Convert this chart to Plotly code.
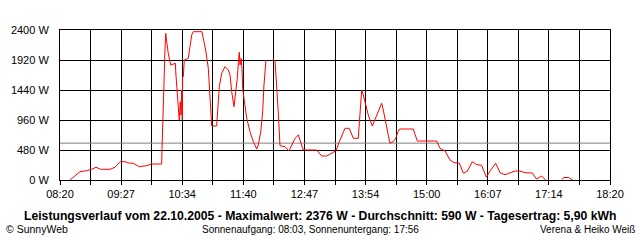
import plotly.graph_objects as go

# time in minutes of day, power in W (None = gap)
times = [510.9, 518.2, 521.8, 529.1, 534.6, 539.3, 544.4, 554.5, 560.0, 565.5, 570.9, 574.5, 580.0, 586.5,
         594.6, 600.0, 610.9, 611.3, 612.0, 613.5, 614.5, 615.3, 616.4, 618.1, 620.8, 623.6, 625.8, 626.5,
         628.0, 629.5, 630.1, 631.2, 632.0, 632.7, 633.4, 633.8, 634.5, 635.6, 640.0, 641.8, 643.7, 645.4,
         654.9, 656.3, 658.9, 661.8, 662.9, 664.4, 665.5, 670.9, 672.0, 673.8, 676.4, 680.0, 683.6, 685.5,
         687.3, 689.8, 691.7, 693.4, 694.9, 695.6, 696.4, 697.5, 698.5, 699.3, 700.7, 703.7, 707.3, 710.9,
         714.6, 716.3, 719.0, 721.1, 722.5, 724.7, 729.0, 734.5, 736.4, 738.1, 740.0, 745.5, 749.8, 752.8,
         756.4, 760.0, 761.8, 765.4, 780.0, 785.5, 791.0, 796.4, 801.1, 804.7, 809.1, 810.9, 815.6, 820.0,
         825.4, 827.3, 829.1, 830.9, 832.7, 836.3, 840.7, 844.7, 848.3, 850.9, 852.7, 855.6, 858.1, 860.0,
         863.6, 866.2, 869.1, 870.9, 885.4, 889.8, 910.9, 914.5, 920.0, 925.5, 929.8, 935.6, 940.0, 944.3,
         949.8, 954.6, 960.0, 965.1, 969.4, 975.3, 980.0, 985.5, 990.9, 996.4, 1001.8, 1007.3, 1015.2,
         1019.8, 1025.5, 1029.6, 1038.0, 1047.1, 1049.8, 1054.7, 1059.3]
power = [0, 96, 133, 149, 171, 203, 171, 171, 203, 293, 293, 272, 267, 213,
         229, 256, 256, 507, 1040, 1573, 2080, 2347, 2213, 2027, 1840, 1856, 1867, 1680,
         1413, 1067, 960, 1253, 1040, 1440, 960, 1653, 1653, 1920, 1947, 2133, 2320, 2373,
         2373, 2267, 2080, 1787, 1467, 1040, 864, 864, 1147, 1493, 1707, 1813, 1760, 1680,
         1413, 1173, 1413, 1627, 1947, 2043, 1840, 1947, 1787, 1467, 1307, 987, 773, 613,
         496, 560, 773, 1093, 1520, 1920, None, 1920, 1520, 1093, 549, 533, 464, 560,
         667, 720, 640, 480, 480, 384, 384, 427, 469, 613, 773, 827, 827, 667,
         667, 1147, 1440, 1360, 1253, 1040, 864, 1013, 1157, 1227, 1120, 933, 720, 587,
         613, 667, 784, 816, 816, 624, 624, 507, 464, 320, 277, 270, 110, 140,
         293, 245, 235, 45, 150, 267, 117, 85, 117, 144, 144, 117, 112,
         15, 64, 0, None, 5, 40, 40, 0]

average_w = 590
x_tick_labels = ["08:20", "09:27", "10:34", "11:40", "12:47", "13:54", "15:00", "16:07", "17:14", "18:20"]
y_ticks = [0, 480, 960, 1440, 1920, 2400]

x_start, x_end = 500, 1100
step = (x_end - x_start) / 18
tickvals = [x_start + k * step for k in range(19)]
ticktext = [x_tick_labels[k // 2] if k % 2 == 0 else "" for k in range(19)]

fig = go.Figure()
fig.add_trace(go.Scatter(x=[x_start, x_end], y=[average_w, average_w], mode="lines",
                         line=dict(color="#808080", width=1), hoverinfo="skip"))
fig.add_trace(go.Scatter(x=times, y=power, mode="lines", connectgaps=False,
                         line=dict(color="#ff0000", width=1)))

fnt = "Liberation Sans, Arial, sans-serif"
fig.update_layout(
    width=640, height=240, showlegend=False,
    margin=dict(l=60, r=30, t=30, b=60),
    paper_bgcolor="white", plot_bgcolor="white",
    font=dict(family=fnt, size=11, color="black"),
    xaxis=dict(range=[x_start, x_end], tickvals=tickvals, ticktext=ticktext,
               showgrid=True, gridcolor="black", gridwidth=1,
               showline=True, linecolor="black", linewidth=1, mirror=True,
               ticks="outside", ticklen=4, tickcolor="black", zeroline=False,
               tickfont=dict(family=fnt, size=11)),
    yaxis=dict(range=[0, 2400], tickvals=y_ticks, ticktext=[f"{v} W" for v in y_ticks],
               showgrid=True, gridcolor="black", gridwidth=1,
               showline=True, linecolor="black", linewidth=1, mirror=True,
               ticks="", zeroline=False, ticklabelstandoff=8,
               tickfont=dict(family=fnt, size=11)),
    annotations=[
        dict(text="<b>Leistungsverlauf vom 22.10.2005 - Maximalwert: 2376 W - Durchschnitt: 590 W - Tagesertrag: 5,90 kWh</b>",
             xref="paper", yref="paper", x=(320 - 60) / 550, y=-0.24, xanchor="center", yanchor="middle",
             showarrow=False, font=dict(family=fnt, size=12.2)),
        dict(text="© SunnyWeb", xref="paper", yref="paper", x=-56 / 550, y=-0.327,
             xanchor="left", yanchor="middle", showarrow=False, font=dict(family=fnt, size=10.5)),
        dict(text="Sonnenaufgang: 08:03, Sonnenuntergang: 17:56", xref="paper", yref="paper",
             x=(310 - 60) / 550, y=-0.327, xanchor="center", yanchor="middle", showarrow=False,
             font=dict(family=fnt, size=10)),
        dict(text="Verena &amp; Heiko Weiß", xref="paper", yref="paper", x=(637 - 60) / 550, y=-0.327,
             xanchor="right", yanchor="middle", showarrow=False, font=dict(family=fnt, size=10)),
    ],
)

fig.write_html("out.html")
